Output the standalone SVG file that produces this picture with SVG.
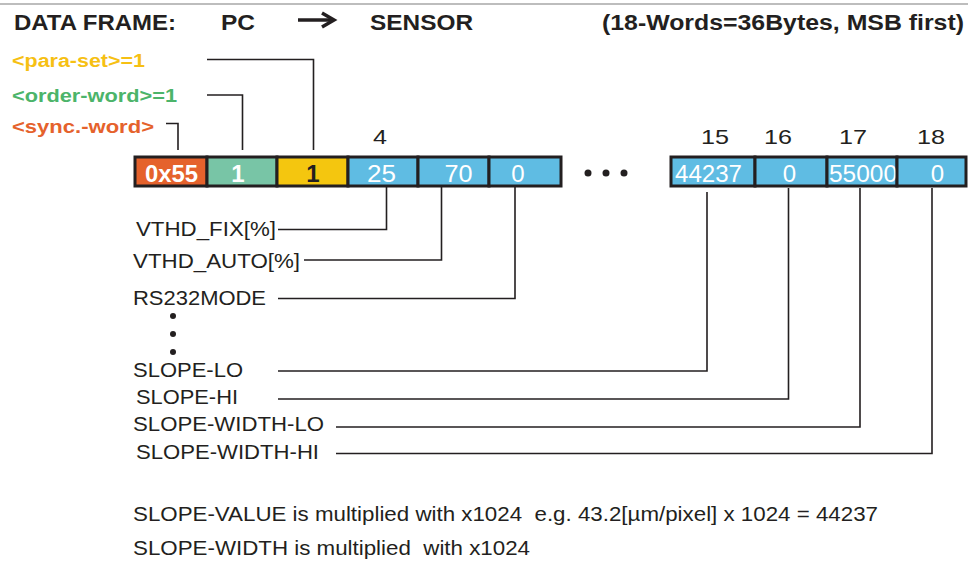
<svg xmlns="http://www.w3.org/2000/svg" width="968" height="562" viewBox="0 0 968 562">
<style>
.t{font-family:"Liberation Sans",Arial,sans-serif;white-space:pre;}
.title{font-size:22.5px;font-weight:bold;fill:#231f20;}
.lab{font-size:18px;font-weight:bold;}
.num{font-size:21px;fill:#231f20;}
.box{stroke:#231f20;stroke-width:3;}
.bv{font-size:24px;fill:#ffffff;text-anchor:middle;}
.name{font-size:21px;fill:#231f20;}
.ln{fill:none;stroke:#231f20;stroke-width:1.6;}
.dot{fill:#231f20;}
</style>
<line x1="0" y1="4" x2="968" y2="4" stroke="#bdbdbd" stroke-width="2"/>
<g id="title">
<text class="t title" x="14" y="30" textLength="162" lengthAdjust="spacingAndGlyphs">DATA FRAME:</text>
<text class="t title" x="221" y="30" textLength="34" lengthAdjust="spacingAndGlyphs">PC</text>
<g fill="none" stroke="#231f20" stroke-width="3.5">
<line x1="298" y1="20" x2="334" y2="20"/>
<polyline points="322,13 334,20 322,27"/>
</g>
<text class="t title" x="370" y="30" textLength="103" lengthAdjust="spacingAndGlyphs">SENSOR</text>
<text class="t title" x="602" y="30" textLength="362" lengthAdjust="spacingAndGlyphs">(18-Words=36Bytes, MSB first)</text>
</g>
<g id="labels">
<text class="t lab" x="12" y="67" fill="#f6c013" textLength="133" lengthAdjust="spacingAndGlyphs">&lt;para-set&gt;=1</text>
<text class="t lab" x="12" y="102" fill="#4cb46a" textLength="165" lengthAdjust="spacingAndGlyphs">&lt;order-word&gt;=1</text>
<text class="t lab" x="12" y="133" fill="#e5622c" textLength="142" lengthAdjust="spacingAndGlyphs">&lt;sync.-word&gt;</text>
</g>
<g id="numbers">
<text class="t num" x="373" y="144" textLength="14" lengthAdjust="spacingAndGlyphs">4</text>
<text class="t num" x="701" y="144" textLength="28" lengthAdjust="spacingAndGlyphs">15</text>
<text class="t num" x="764" y="144" textLength="28" lengthAdjust="spacingAndGlyphs">16</text>
<text class="t num" x="839" y="144" textLength="28" lengthAdjust="spacingAndGlyphs">17</text>
<text class="t num" x="917" y="144" textLength="28" lengthAdjust="spacingAndGlyphs">18</text>
</g>
<g id="frame">
<g id="w1"><rect class="box" x="135" y="157" width="72" height="29" fill="#e5622c"/><text class="t bv" x="171.5" y="181.5" font-weight="bold" textLength="53" lengthAdjust="spacingAndGlyphs">0x55</text></g>
<g id="w2"><rect class="box" x="207" y="157" width="70" height="29" fill="#78c5a6"/><text class="t bv" x="238" y="181.5" font-weight="bold">1</text></g>
<g id="w3"><rect class="box" x="277" y="157" width="71" height="29" fill="#f4c60f"/><text class="t bv" x="313" y="181.5" font-weight="bold" style="fill:#231f20">1</text></g>
<g id="w4"><rect class="box" x="348" y="157" width="70" height="29" fill="#5fbce3"/><text class="t bv" x="381.5" y="181.5" textLength="29" lengthAdjust="spacingAndGlyphs">25</text></g>
<g id="w5"><rect class="box" x="418" y="157" width="71" height="29" fill="#5fbce3"/><text class="t bv" x="458.5" y="181.5" textLength="28" lengthAdjust="spacingAndGlyphs">70</text></g>
<g id="w6"><rect class="box" x="489" y="157" width="72" height="29" fill="#5fbce3"/><text class="t bv" x="518" y="181.5">0</text></g>
<g id="ellipsis"><circle class="dot" cx="588" cy="173" r="3.5"/><circle class="dot" cx="606" cy="173" r="3.5"/><circle class="dot" cx="624" cy="173" r="3.5"/></g>
<g id="w15"><rect class="box" x="671" y="157" width="84" height="29" fill="#5fbce3"/><text class="t bv" x="708.5" y="181.5" textLength="67" lengthAdjust="spacingAndGlyphs">44237</text></g>
<g id="w16"><rect class="box" x="755" y="157" width="72" height="29" fill="#5fbce3"/><text class="t bv" x="789.5" y="181.5">0</text></g>
<g id="w17"><rect class="box" x="827" y="157" width="70" height="29" fill="#5fbce3"/><text class="t bv" x="863" y="181.5" textLength="68" lengthAdjust="spacingAndGlyphs">55000</text></g>
<g id="w18"><rect class="box" x="897" y="157" width="69" height="29" fill="#5fbce3"/><text class="t bv" x="937.5" y="181.5">0</text></g>
</g>
<g id="names">
<text class="t name" x="136" y="236" textLength="140" lengthAdjust="spacingAndGlyphs">VTHD_FIX[%]</text>
<text class="t name" x="133" y="268" textLength="167" lengthAdjust="spacingAndGlyphs">VTHD_AUTO[%]</text>
<text class="t name" x="133" y="305" textLength="133" lengthAdjust="spacingAndGlyphs">RS232MODE</text>
<circle class="dot" cx="173" cy="316" r="3"/><circle class="dot" cx="173" cy="334" r="3"/><circle class="dot" cx="173" cy="352" r="3"/>
<text class="t name" x="133" y="377" textLength="110" lengthAdjust="spacingAndGlyphs">SLOPE-LO</text>
<text class="t name" x="136" y="404" textLength="102" lengthAdjust="spacingAndGlyphs">SLOPE-HI</text>
<text class="t name" x="133" y="431" textLength="191" lengthAdjust="spacingAndGlyphs">SLOPE-WIDTH-LO</text>
<text class="t name" x="136" y="459" textLength="183" lengthAdjust="spacingAndGlyphs">SLOPE-WIDTH-HI</text>
</g>
<g id="connectors">
<polyline class="ln" points="207,59.5 313.5,59.5 313.5,150"/>
<polyline class="ln" points="207,95 242.5,95 242.5,150"/>
<polyline class="ln" points="166,123.5 178,123.5 178,150"/>
<polyline class="ln" points="278,229.5 386.5,229.5 386.5,187"/>
<polyline class="ln" points="304,260 441.5,260 441.5,187"/>
<polyline class="ln" points="278,298.5 515,298.5 515,187"/>
<polyline class="ln" points="278,371 707,371 707,192"/>
<polyline class="ln" points="278,399 788.5,399 788.5,188"/>
<polyline class="ln" points="336,427 860,427 860,188"/>
<polyline class="ln" points="336,453.5 932,453.5 932,188"/>
</g>
<g id="notes">
<text class="t name" x="133" y="521" textLength="745" lengthAdjust="spacingAndGlyphs">SLOPE-VALUE is multiplied with x1024  e.g. 43.2[µm/pixel] x 1024 = 44237</text>
<text class="t name" x="133" y="555" textLength="397" lengthAdjust="spacingAndGlyphs">SLOPE-WIDTH is multiplied  with x1024</text>
</g>
</svg>
